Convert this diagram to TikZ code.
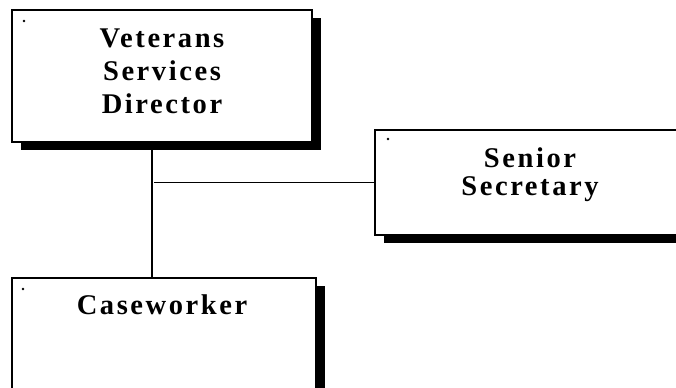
\documentclass[tikz,border=0pt]{standalone}
\usepackage{fontspec}
\setmainfont{Liberation Serif}
\newfontfamily\spacedfont[LetterSpace=9]{Liberation Serif}
\usepackage{tikz}
\usetikzlibrary{shadows, positioning}

\tikzset{
  post/.style={rectangle, draw=black, fill=white, line width=1.1pt, inner sep=0pt,
    drop shadow={shadow xshift=6.75pt, shadow yshift=-6pt, opacity=1, fill=black}},
  title/.style={inner sep=0pt, anchor=north, align=center,
    font=\spacedfont\bfseries\fontsize{21.4pt}{24.75pt}\selectfont},
  link/.style={draw=black, line width=1.1pt}
}

\begin{document}
\begin{tikzpicture}[x=0.75pt, y=-0.75pt]
 \clip (0,0) rectangle (676,388);
 \fill[white] (0,0) rectangle (676,388);

 % the three posts
 \node[post, minimum width=225pt, minimum height=99pt] (dir) at (162,76) {};
 \node[post, minimum width=243.75pt, minimum height=78.75pt] (sec) at (537.5,182.5) {};
 \node[post, minimum width=228pt, minimum height=106.5pt] (cw) at (164,349) {};

 % stray marks in the corners
 \fill (24,21) circle (1.1pt);
 \fill (388,139) circle (1.1pt);
 \fill (23,289) circle (1.1pt);

 % titles
 \node[title] (dirtext) at (162,28.5) {Veterans\\Services\\Director};
 \node[title, font=\spacedfont\bfseries\fontsize{21.4pt}{21pt}\selectfont] (sectext) at (530,147.5) {Senior\\Secretary};
 \node[title] (cwtext) at (162,294.5) {Caseworker};

 % reporting lines
 \coordinate (spine) at (152,0);
 \coordinate (tee) at (154,182);
 \draw[link] (dir.south -| spine) -- (cw.north -| spine);
 \draw[link] (sec.west -| tee) -- (sec.west);
\end{tikzpicture}
\end{document}
